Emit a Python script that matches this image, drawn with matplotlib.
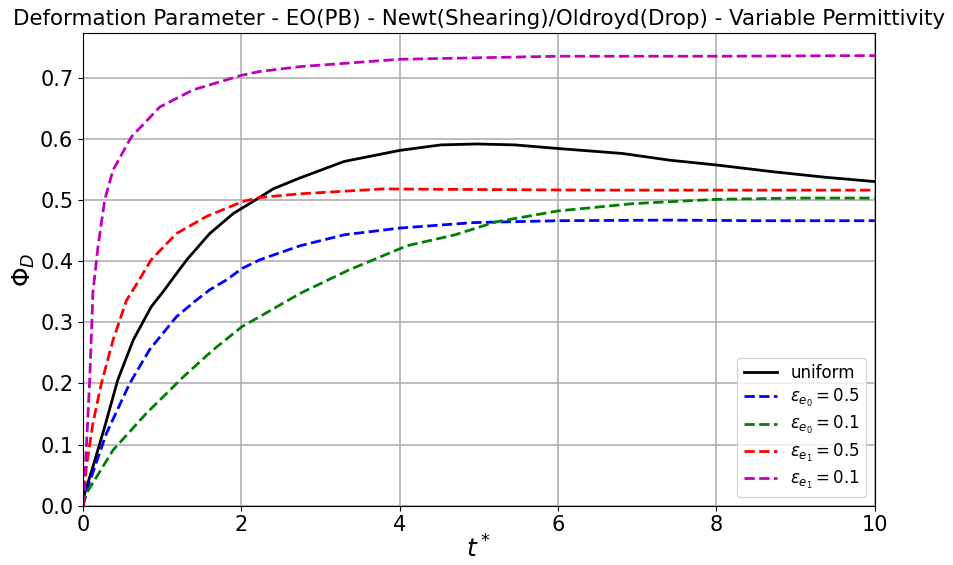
import numpy as np
import matplotlib
matplotlib.use("Agg")
from matplotlib import pyplot as plt

# uniform permittivity (black solid)
t_uni = [0, 0.021, 0.126, 0.274, 0.44, 0.635, 0.86, 1.03, 1.12, 1.31, 1.60, 1.90, 2.23, 2.40, 2.74,
         3.30, 4.00, 4.52, 4.98, 5.45, 6.01, 6.81, 7.41, 8.01, 8.72, 9.38, 10]
phi_uni = [0, 0.020, 0.064, 0.129, 0.206, 0.271, 0.325, 0.353, 0.369, 0.402, 0.445, 0.478, 0.504, 0.518,
           0.536, 0.563, 0.581, 0.590, 0.5915, 0.590, 0.584, 0.576, 0.565, 0.557, 0.546, 0.537, 0.530]

# eps_e0 = 0.5 (blue)
t_b1 = [0, 0.063, 0.295, 0.59, 0.84, 1.18, 1.43, 1.60, 1.81, 2.01, 2.23, 2.74, 3.3, 4.0, 4.94,
        6.0, 7.4, 8.5, 10]
phi_b1 = [0, 0.031, 0.118, 0.200, 0.255, 0.309, 0.336, 0.353, 0.369, 0.388, 0.402, 0.425, 0.443,
          0.454, 0.463, 0.466, 0.467, 0.466, 0.466]

# eps_e0 = 0.1 (green)
t_g1 = [0, 0.043, 0.38, 0.80, 1.27, 1.645, 2.01, 2.23, 2.74, 3.35, 4.09, 4.70, 5.21, 6.0, 6.95,
        8.01, 9.0, 10]
phi_g1 = [0, 0.020, 0.091, 0.151, 0.211, 0.255, 0.293, 0.309, 0.347, 0.385, 0.425, 0.443, 0.464,
          0.482, 0.494, 0.501, 0.503, 0.503]

# eps_e1 = 0.5 (red)
t_r1 = [0, 0.043, 0.126, 0.232, 0.38, 0.55, 0.69, 0.86, 1.18, 1.56, 2.01, 2.23, 2.74, 3.79, 5.0,
        6.5, 8.0, 10]
phi_r1 = [0, 0.064, 0.135, 0.200, 0.271, 0.336, 0.365, 0.402, 0.445, 0.473, 0.497, 0.504, 0.510,
          0.518, 0.517, 0.516, 0.516, 0.516]

# eps_e1 = 0.1 (magenta)
t_m1 = [0, 0.043, 0.085, 0.126, 0.19, 0.274, 0.38, 0.61, 0.97, 1.39, 2.01, 2.23, 2.74, 4.0, 6.0,
        8.0, 10]
phi_m1 = [0, 0.096, 0.206, 0.350, 0.424, 0.500, 0.549, 0.603, 0.652, 0.680, 0.704, 0.710, 0.718,
          0.730, 0.735, 0.735, 0.736]

fig = plt.figure(figsize=(9.54, 5.65), dpi=100)
ax = fig.add_axes([0.087, 0.105, 0.83, 0.8366])

ax.plot(t_uni, phi_uni, 'k-', lw=2, label='uniform')
ax.plot(t_b1, phi_b1, 'b--', lw=2, label=r'$\varepsilon_{e_0}=0.5$')
ax.plot(t_g1, phi_g1, 'g--', lw=2, label=r'$\varepsilon_{e_0}=0.1$')
ax.plot(t_r1, phi_r1, 'r--', lw=2, label=r'$\varepsilon_{e_1}=0.5$')
ax.plot(t_m1, phi_m1, 'm--', lw=2, label=r'$\varepsilon_{e_1}=0.1$')

ax.set_xlim(0, 10)
ax.set_ylim(0, 0.773)
ax.grid(True, color='#b0b0b0', lw=1.2)
ax.tick_params(labelsize=15)
ax.set_xlabel(r'$t^*$', fontsize=18, labelpad=0)
ax.set_ylabel(r'$\Phi_D$', fontsize=18, labelpad=2)
ax.set_title('Deformation Parameter - EO(PB) - Newt(Shearing)/Oldroyd(Drop) - Variable Permittivity',
             fontsize=15.4)
ax.legend(loc='lower right', fontsize=12, labelspacing=0.3)

fig.savefig('out.png', dpi=100)
